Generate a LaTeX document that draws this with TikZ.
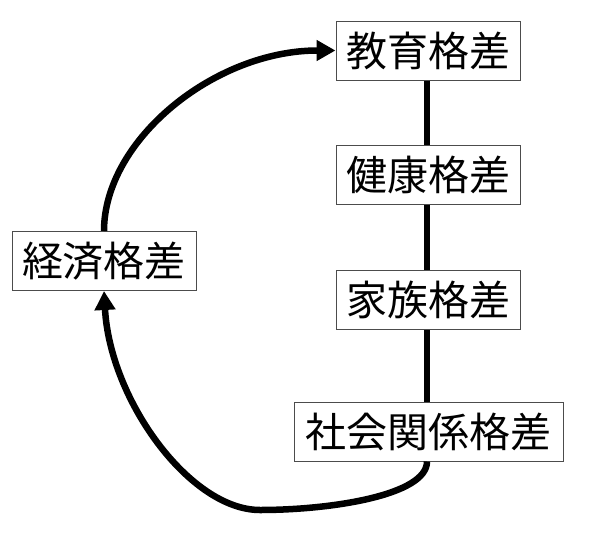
\documentclass[tikz,border=0pt]{standalone}
\usepackage{fontspec}
\newfontfamily\jpfont{Noto Sans CJK JP}
\usetikzlibrary{arrows.meta}
\tikzset{
  box/.style={draw=black!70, line width=1pt, fill=white, inner sep=0pt,
    minimum width=184pt, minimum height=59pt,
    font=\jpfont\fontsize{41}{41}\selectfont},
  link/.style={line width=6.5pt},
  arr/.style={line width=6.5pt, -{Triangle[length=19pt,width=20pt]}}
}
\begin{document}
\begin{tikzpicture}[x=1pt,y=-1pt]
\useasboundingbox (0,0) rectangle (600,533);
\node[box] (a) at (428,50.5) {教育格差};
\node[box] (b) at (428,174.5) {健康格差};
\node[box] (c) at (428,300) {家族格差};
\node[box, minimum width=269pt] (d) at (428.5,431.5) {社会関係格差};
\node[box] (e) at (104,261) {経済格差};
\coordinate (bot) at (260,510);
\draw[link] (a.south -| 427,0) -- (b.north -| 427,0);
\draw[link] (b.south -| 427,0) -- (c.north -| 427,0);
\draw[link] (c.south -| 427,0) -- (d.north -| 427,0);
\draw[arr] (d.south -| 427,0) .. controls +(0,34) and +(70,0) .. (bot)
  .. controls +(-70,0) and +(6,109) .. (e.south);
\draw[arr] (e.north) .. controls +(0,-91) and +(-121,0) .. (a.west);
\end{tikzpicture}
\end{document}
